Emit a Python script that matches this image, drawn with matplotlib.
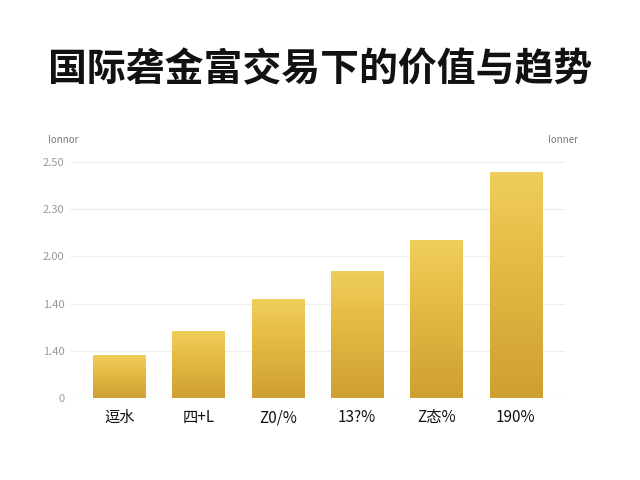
import matplotlib.pyplot as plt
import numpy as np
from matplotlib.colors import LinearSegmentedColormap

plt.rcParams['font.family'] = ['Noto Sans CJK SC', 'DejaVu Sans']

categories = ['逗水', '四+L', 'Z0/%', '13?%', 'Z态%', '190%']
values = [0.89, 1.40, 2.09, 2.68, 3.34, 4.78]
ytick_vals = [0, 1, 2, 3, 4, 5]
ytick_labels = ['0', '1.40', '1.40', '2.00', '2.30', '2.50']

fig = plt.figure(figsize=(6.4, 4.8), dpi=100)
ax = fig.add_axes([70/640, 1-398/480, 495/640, (398-162)/480])
fig.text(0.5, 1-70/480, '国际砻金富交易下的价值与趋势', ha='center', va='center',
         fontsize=28, fontweight='bold', color='#111111')

cmap = LinearSegmentedColormap.from_list('g', ['#CFA030', '#E6BD45', '#F8DC70'])
x = np.arange(len(values))
w = 0.66
grad = np.linspace(0, 1, 100).reshape(-1, 1)
for xi, v in zip(x, values):
    ax.imshow(grad, extent=[xi-w/2, xi+w/2, 0, v], origin='lower', cmap=cmap,
              aspect='auto', zorder=2, vmin=0, vmax=1.3)
ax.set_xlim(-0.62, len(values)-0.38)
ax.set_ylim(0, 5)
ax.set_yticks(ytick_vals)
ax.set_yticklabels(ytick_labels, fontsize=8, color='#999999')
ax.set_xticks(x)
ax.set_xticklabels(categories, fontsize=11, color='#111111')
ax.tick_params(length=0, pad=8)
ax.tick_params(axis='y', pad=4)
ax.grid(axis='y', color='#eeeeee', lw=0.8, zorder=0)
for s in ax.spines.values():
    s.set_visible(False)
ax.axhline(0, color='#cccccc', lw=0.8)
fig.text(48/640, 1-140/480, 'Ionnor', fontsize=7, color='#777777', va='center')
fig.text(548/640, 1-140/480, 'Ionner', fontsize=7, color='#777777', va='center')
fig.savefig('out.png', dpi=100)
